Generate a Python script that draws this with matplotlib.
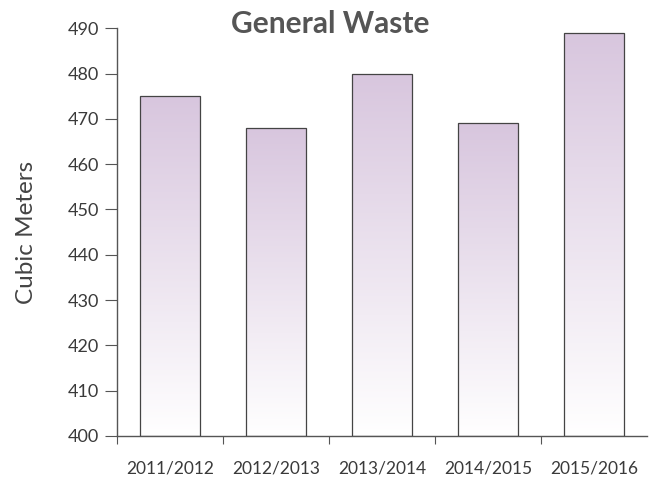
import numpy as np
import matplotlib.pyplot as plt
from matplotlib.colors import LinearSegmentedColormap

plt.rcParams['font.family'] = ['Lato', 'DejaVu Sans']

# ---------------- data ----------------
years = ["2011/2012", "2012/2013", "2013/2014", "2014/2015", "2015/2016"]
volume = [475, 468, 480, 469, 489]

ymin, ymax = 400, 490
bar_w = 0.57
grey = "#555555"

fig = plt.figure(figsize=(6.57, 4.78), dpi=100)
ax = fig.add_axes([0.178, 0.088, 0.807, 0.853])

# lilac -> white fade for each bar
fade = LinearSegmentedColormap.from_list("fade", ["#ffffff", "#d8c6de"])
grad = np.linspace(0, 1, 256).reshape(-1, 1)

for i, v in enumerate(volume):
    x0 = i - bar_w / 2
    rect = ax.bar(i, v - ymin, bottom=ymin, width=bar_w, facecolor="none",
                  edgecolor="#444444", linewidth=0.9, zorder=3)[0]
    im = ax.imshow(grad, cmap=fade, origin="lower", aspect="auto",
                   extent=[x0, x0 + bar_w, ymin, v], zorder=2)
    im.set_clip_path(rect)

ax.set_xlim(-0.5, 4.5)
ax.set_ylim(ymin, ymax)

# ticks between categories, labels under each bar
ax.set_xticks([-0.5, 0.5, 1.5, 2.5, 3.5])
ax.set_xticklabels([])
ax.set_xticks(range(len(years)), minor=True)
ax.set_xticklabels(years, minor=True)
ax.tick_params(axis="x", which="major", length=6, direction="out", color=grey)
ax.tick_params(axis="x", which="minor", length=0, pad=18, labelsize=12.5, labelcolor="#3a3a3a")
ax.set_yticks(range(400, 491, 10))
ax.tick_params(axis="y", length=9, color=grey, labelsize=13, labelcolor="#3a3a3a", pad=4)

for s in ["top", "right"]:
    ax.spines[s].set_visible(False)
for s in ["left", "bottom"]:
    ax.spines[s].set_color(grey)
    ax.spines[s].set_linewidth(1.0)

ax.set_ylabel("Cubic Meters", fontsize=17.5, color="#444444", labelpad=22)
fig.text(0.503, 0.932, "General Waste", ha="center", va="baseline",
         fontsize=21.5, fontweight="bold", color="#555555")

fig.savefig("out.png", dpi=100)
